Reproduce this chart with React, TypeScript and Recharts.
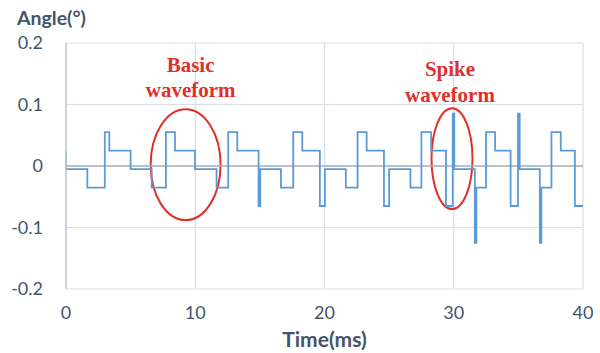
import React from "react";
import {
  LineChart,
  Line,
  XAxis,
  YAxis,
  CartesianGrid,
  ReferenceLine,
  ReferenceArea,
  Label,
} from "recharts";

// step waveform: each angle holds from its time until the next time (ms)
const times = [
  0, 0, 1.65, 3.0, 3.35, 5.0, 6.63, 7.73, 8.43, 9.98, 11.65, 12.55, 13.25,
  14.9, 15.03, 16.63, 17.58, 18.28, 19.64, 20.03, 21.65, 22.56, 23.26, 24.6,
  25.0, 26.65, 27.5, 28.25, 29.4, 29.92, 30.04, 31.63, 31.75, 32.5, 33.2,
  34.4, 34.97, 35.1, 36.66, 36.78, 37.56, 38.28, 39.37, 40,
];
const angles = [
  0.025, -0.005, -0.035, 0.055, 0.025, -0.005, -0.035, 0.055, 0.025, -0.005,
  -0.035, 0.055, 0.025, -0.065, -0.005, -0.035, 0.055, 0.025, -0.065, -0.005,
  -0.035, 0.055, 0.025, -0.065, -0.005, -0.035, 0.055, 0.025, -0.065, 0.085,
  -0.005, -0.125, -0.035, 0.055, 0.025, -0.065, 0.085, -0.005, -0.125,
  -0.035, 0.055, 0.025, -0.065, -0.065,
];

const xTicks = [0, 10, 20, 30, 40];
const yTicks = [-0.2, -0.1, 0, 0.1, 0.2];

// annotation ellipses (data coords) and their labels
const notes = [
  { x1: 6.55, x2: 11.96, y1: -0.088, y2: 0.0924, lines: ["Basic", "waveform"], dx: 5, dy: -37.6 },
  { x1: 28.28, x2: 31.45, y1: -0.07, y2: 0.094, lines: ["Spike", "waveform"], dx: -2, dy: -31.8 },
];

const data = times.map((t, i) => ({ t, angle: angles[i] }));

const TEXT = "#44546a";
const GRID = "#d9dde6";
const RED = "#e0302a";
const FONT = "Lato, 'Open Sans', sans-serif";

function EllipseNote(props: any) {
  const { x, y, width, height, lines, dx, dy } = props;
  const cx = x + width / 2;
  const cy = y + height / 2;
  return (
    <g>
      <ellipse
        cx={cx}
        cy={cy}
        rx={width / 2}
        ry={height / 2}
        fill="none"
        stroke={RED}
        strokeWidth={2}
      />
      <text
        textAnchor="middle"
        fill={RED}
        fontFamily="'Liberation Serif', serif"
        fontWeight="bold"
        fontSize={21}
      >
        {lines.map((l: string, i: number) => (
          <tspan key={l + i} x={cx + dx} y={y + dy + i * 25.6}>
            {l}
          </tspan>
        ))}
      </text>
    </g>
  );
}

export default function App() {
  return (
    <div style={{ position: "absolute", left: 0, top: 0, width: 600, height: 353, background: "#fff" }}>
      <LineChart
        width={600}
        height={353}
        data={data}
        margin={{ top: 43, right: 17, bottom: 34, left: 16 }}
      >
        <CartesianGrid stroke={GRID} strokeWidth={1.2} />
        <XAxis
          type="number"
          dataKey="t"
          domain={[0, 40]}
          ticks={xTicks}
          tickLine={false}
          axisLine={false}
          tickSize={0}
          tickMargin={17}
          height={30}
          tick={{ fill: TEXT, fontSize: 18, fontFamily: FONT }}
        >
          <Label
            content={(p: any) => {
              const vb = p.viewBox || { x: 66, width: 517 };
              return (
                <text
                  x={vb.x + vb.width / 2}
                  y={347}
                  textAnchor="middle"
                  fill={TEXT}
                  fontFamily={FONT}
                  fontWeight="bold"
                  fontSize={21}
                >
                  Time(ms)
                </text>
              );
            }}
          />
        </XAxis>
        <YAxis
          type="number"
          domain={[-0.2, 0.2]}
          ticks={yTicks}
          width={50}
          tickLine={false}
          tickSize={0}
          tickMargin={23}
          axisLine={{ stroke: "#c6ccd8", strokeWidth: 1.5 }}
          tickFormatter={(v: number) => String(Math.round(v * 10) / 10)}
          tick={{ fill: TEXT, fontSize: 18, fontFamily: FONT }}
        >
          <Label
            content={() => (
              <text x={17} y={25} fill={TEXT} fontFamily={FONT} fontWeight="bold" fontSize={19.5}>
                Angle(°)
              </text>
            )}
          />
        </YAxis>
        <ReferenceLine y={0} stroke="#adb1bc" strokeWidth={1.6} />
        <Line
          type="stepAfter"
          dataKey="angle"
          stroke="#5b9bd5"
          strokeWidth={1.8}
          dot={false}
          isAnimationActive={false}
        />
        {notes.map((n) => (
          <ReferenceArea
            key={n.lines[0]}
            x1={n.x1}
            x2={n.x2}
            y1={n.y1}
            y2={n.y2}
            shape={(p: any) => <EllipseNote {...p} lines={n.lines} dx={n.dx} dy={n.dy} />}
          />
        ))}
      </LineChart>
    </div>
  );
}
